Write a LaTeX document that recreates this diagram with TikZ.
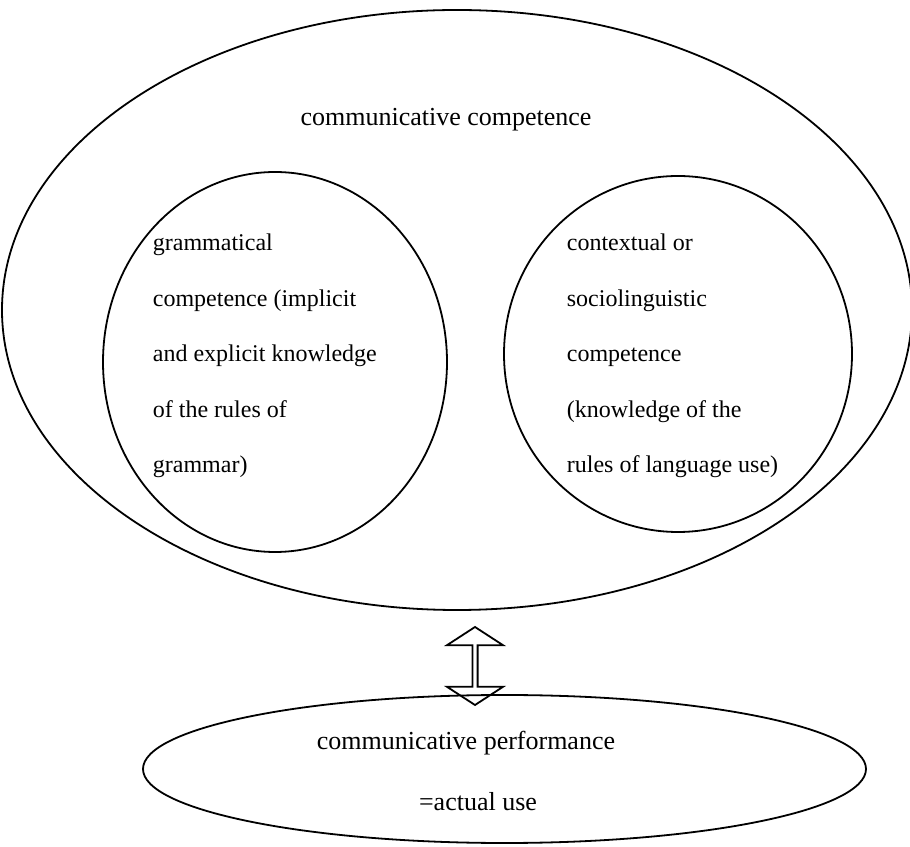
\documentclass[tikz,border=0pt]{standalone}
\usepackage{fontspec}
\setmainfont{Liberation Serif}
\usetikzlibrary{shapes.geometric,shapes.arrows}

\begin{document}
\begin{tikzpicture}[x=0.5pt, y=0.5pt, line width=0.9pt,
    ring/.style={draw, ellipse, inner sep=0pt},
    bigtext/.style={inner sep=0pt, font=\fontsize{13pt}{27.75pt}\selectfont},
    smalltext/.style={inner sep=0pt, align=left, font=\fontsize{12pt}{27.75pt}\selectfont}]
    \useasboundingbox (0,0) rectangle (910,846);
    % the three competences
    \node[ring, minimum width=455pt, minimum height=300pt] (competence) at (457,536) {};
    \node[ring, minimum width=172pt, minimum height=190pt] (grammatical) at (275,484) {};
    \node[ring, minimum width=174pt, minimum height=178pt] (contextual) at (678,492) {};
    \node[bigtext, anchor=base] (comptext) at (446,720) {communicative competence};
    \node[smalltext, anchor=base west] (gramtext) at (152,373)
        {grammatical\\competence (implicit\\and explicit knowledge\\of the rules of\\grammar)};
    \node[smalltext, anchor=base west] (contexttext) at (566,373)
        {contextual or\\sociolinguistic\\competence\\(knowledge of the\\rules of language use)};
    % performance
    \node[ring, minimum width=361.5pt, minimum height=74pt] (performance) at (504.5,77) {};
    \node[bigtext, anchor=base] (perftext) at (466,97) {communicative performance};
    \node[bigtext, anchor=base] (usetext) at (478,36) {=actual use};
    % link between them
    \node[draw, double arrow, shape border rotate=90, inner sep=0pt,
          minimum height=39pt, minimum width=28pt,
          double arrow head extend=4.4pt, double arrow tip angle=114] (link) at (475,180) {};
\end{tikzpicture}
\end{document}
